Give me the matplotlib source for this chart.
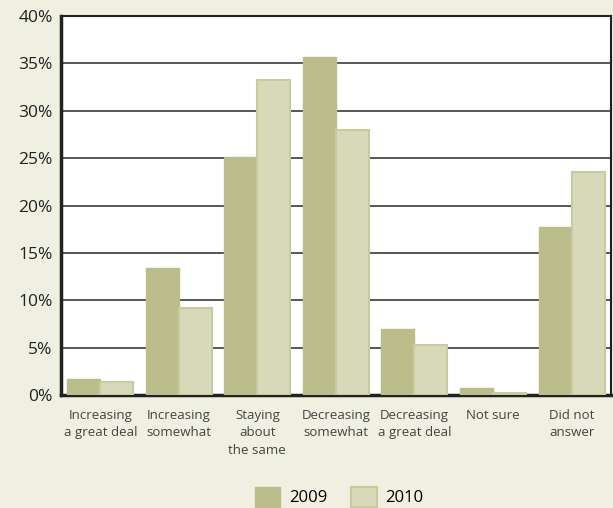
import matplotlib
matplotlib.use('Agg')

import matplotlib.pyplot as plt
import numpy as np
from matplotlib.patches import Patch
from matplotlib.ticker import FuncFormatter


categories = ["Increasing\na great deal", "Increasing\nsomewhat", "Staying\nabout\nthe same",
              "Decreasing\nsomewhat", "Decreasing\na great deal", "Not sure", "Did not\nanswer"]
values_2009 = [1.7, 13.4, 25.1, 35.7, 7.0, 0.7, 17.7]
values_2010 = [1.4, 9.2, 33.2, 28.0, 5.3, 0.2, 23.5]
years = ["2009", "2010"]

BG = '#efefe2'
DARK = '#bbbe8a'
LIGHT = '#d8d9b9'
EDGE = '#c8cb9e'

plt.rcParams['font.family'] = ['Open Sans', 'DejaVu Sans']

fig = plt.figure(figsize=(6.13, 5.08), dpi=100, facecolor=BG)
ax = fig.add_axes([0.0995, 0.2224, 0.897, 0.746])
ax.set_facecolor('white')

x = np.arange(len(categories))
w = 0.42
ax.bar(x - w / 2, values_2009, w, color=DARK, edgecolor=DARK, linewidth=1, zorder=3)
ax.bar(x + w / 2, values_2010, w, color=LIGHT, edgecolor=EDGE, linewidth=1.5, zorder=3)

ax.set_xlim(-0.5, len(categories) - 0.5)
ax.set_ylim(0, 40)
ax.set_yticks(range(0, 41, 5))
ax.yaxis.set_major_formatter(FuncFormatter(lambda v, _: f"{v:.0f}%"))
ax.grid(axis='y', color='#3a3a3a', linewidth=1.2, zorder=1)

ax.set_xticks(x)
ax.set_xticklabels(categories, fontsize=9.5, color='#444444', linespacing=1.45)
ax.tick_params(axis='x', length=0, pad=10)
ax.tick_params(axis='y', length=0, pad=6, labelsize=12.5, labelcolor='#222222')

for side in ('left', 'bottom'):
    ax.spines[side].set_linewidth(2.5)
    ax.spines[side].set_color('#222222')
for side in ('top', 'right'):
    ax.spines[side].set_linewidth(1.5)
    ax.spines[side].set_color('#222222')

handles = [Patch(facecolor=DARK, edgecolor=DARK),
           Patch(facecolor=LIGHT, edgecolor=EDGE, linewidth=1.5)]
fig.legend(handles, years, loc='center', bbox_to_anchor=(0.553, 0.022), ncol=2,
           frameon=False, fontsize=12, handlelength=1.55, handleheight=1.45,
           columnspacing=1.45, handletextpad=0.5, borderpad=0)

fig.savefig('out.png', dpi=100, facecolor=BG)
